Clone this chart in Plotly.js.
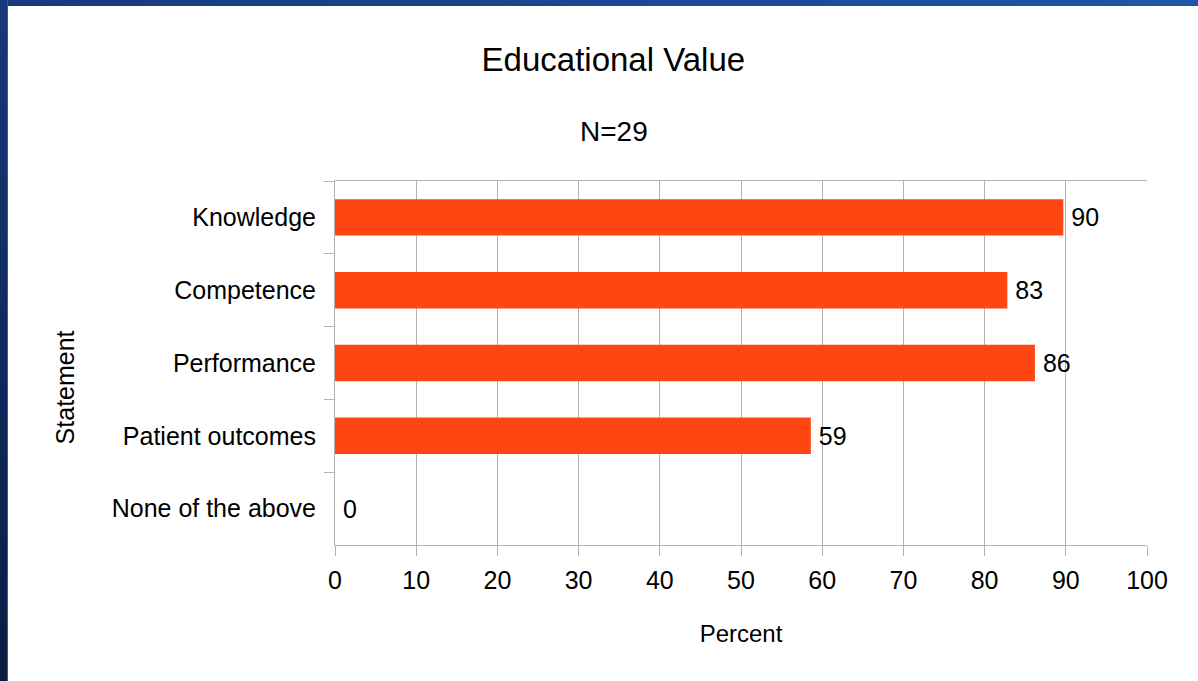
<!DOCTYPE html>
<html>
<head>
<meta charset="utf-8">
<script src="https://cdn.plot.ly/plotly-3.0.1.min.js"></script>
<style>
  html, body { margin: 0; padding: 0; background: #ffffff; }
  #chart { width: 1198px; height: 681px; position: absolute; left: 0; top: 0; }
  #topbar { position: absolute; left: 0; top: 0; width: 1198px; height: 6px;
    background: linear-gradient(to right, #17397a, #1b4a98 60%, #1e56aa); z-index: 5; }
  #leftbar { position: absolute; left: 0; top: 0; width: 7px; height: 681px;
    background: linear-gradient(to bottom, #17397a, #0f2a5e 50%, #0a1d42); z-index: 5;
    border-right: 1px solid #3a5a90; }
</style>
</head>
<body>
<div id="chart"></div>
<div id="topbar"></div>
<div id="leftbar"></div>
<script>
const categories = ["Knowledge", "Competence", "Performance", "Patient outcomes", "None of the above"];
const percentValues = [89.7, 82.8, 86.2, 58.6, 0];
const valueLabels = ["90", "83", "86", "59", "0"];
const xTickValues = [0, 10, 20, 30, 40, 50, 60, 70, 80, 90, 100];

const FONT = "Liberation Sans, Arial, sans-serif";

const trace = {
  type: "bar",
  orientation: "h",
  y: categories,
  x: percentValues,
  text: valueLabels,
  textposition: "outside",
  texttemplate: "\u2009%{text}",
  textfont: { family: FONT, size: 25, color: "#000000" },
  cliponaxis: false,
  marker: { color: "#ff4512", line: { width: 0 } },
  hoverinfo: "none"
};

const layout = {
  width: 1198,
  height: 681,
  paper_bgcolor: "#ffffff",
  plot_bgcolor: "#ffffff",
  showlegend: false,
  bargap: 0.5,
  margin: { l: 335, r: 51, t: 181, b: 136 },
  font: { family: FONT, color: "#000000" },
  title: {
    text: "Educational Value",
    font: { family: FONT, size: 33, color: "#000000" },
    x: 0.512, xanchor: "center",
    y: 0.912, yanchor: "middle"
  },
  annotations: [
    { text: "N=29", xref: "paper", yref: "paper", x: 0.343, y: 1.137,
      xanchor: "center", yanchor: "middle", showarrow: false,
      font: { family: FONT, size: 28, color: "#000000" } },
    { text: "Statement", xref: "paper", yref: "paper", x: -0.3325, y: 0.433,
      xanchor: "center", yanchor: "middle", textangle: -90, showarrow: false,
      font: { family: FONT, size: 25, color: "#000000" } }
  ],
  xaxis: {
    range: [0, 100],
    tickvals: xTickValues,
    ticktext: xTickValues.map(String),
    showgrid: true,
    gridcolor: "#b3b3b3",
    gridwidth: 1,
    zeroline: false,
    showline: true,
    linecolor: "#b3b3b3",
    linewidth: 1,
    mirror: true,
    ticks: "outside",
    ticklen: 10,
    tickcolor: "#b3b3b3",
    ticklabelstandoff: 3,
    tickfont: { family: FONT, size: 25, color: "#000000" },
    title: { text: "Percent", font: { family: FONT, size: 24, color: "#000000" }, standoff: 32 },
    automargin: false,
    fixedrange: true
  },
  yaxis: {
    type: "category",
    autorange: "reversed",
    showgrid: false,
    zeroline: false,
    showline: true,
    linecolor: "#b3b3b3",
    linewidth: 1,
    ticks: "outside",
    tickson: "boundaries",
    ticklen: 10,
    tickcolor: "#b3b3b3",
    ticklabelstandoff: 13,
    tickfont: { family: FONT, size: 25, color: "#000000" },
    automargin: false,
    fixedrange: true
  }
};

Plotly.newPlot("chart", [trace], layout, { staticPlot: true, displayModeBar: false });
</script>
</body>
</html>
